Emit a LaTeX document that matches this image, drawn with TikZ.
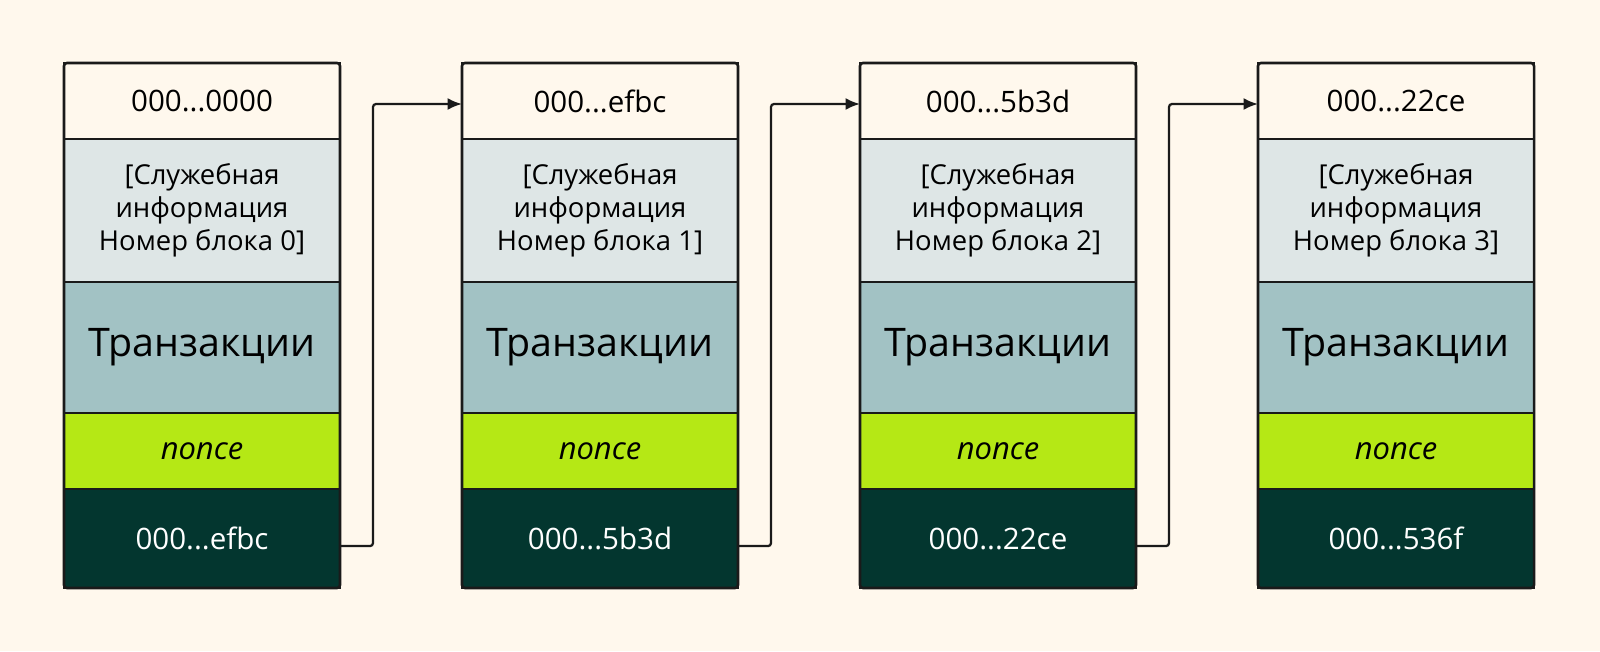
\documentclass[tikz,border=0pt]{standalone}
\usepackage{fontspec}
\setmainfont{Open Sans}
\usetikzlibrary{
  arrows.meta,
  positioning
}
\definecolor{cream}{RGB}{255,248,237}
\definecolor{mist}{RGB}{222,230,230}
\definecolor{sage}{RGB}{162,194,196}
\definecolor{lime}{RGB}{181,232,21}
\definecolor{pine}{RGB}{3,54,47}
\definecolor{ink}{RGB}{26,26,26}

\tikzset{
  part/.style={draw=ink, line width=1.8pt, minimum width=6.9cm, inner sep=0pt, outer sep=0pt, align=center},
  hdpart/.style={part, fill=cream, minimum height=1.9cm, font=\fontsize{21}{24}\selectfont},
  svcpart/.style={part, fill=mist, minimum height=3.575cm, font=\fontsize{19.5}{23.5}\selectfont},
  txpart/.style={part, fill=sage, minimum height=3.275cm, font=\fontsize{28}{32}\selectfont},
  ncpart/.style={part, fill=lime, minimum height=1.9cm, font=\fontsize{22}{25}\selectfont\itshape},
  hspart/.style={part, fill=pine, text=white, minimum height=2.475cm, font=\fontsize{21}{24}\selectfont},
  frame/.style={draw=ink, line width=1.8pt, rounded corners=0.075cm},
  link/.style={-{Latex[length=0.36cm, width=0.3cm]}, draw=ink, line width=1.6pt, rounded corners=0.075cm}
}

\begin{document}
\begin{tikzpicture}
  \fill[cream] (0,0) rectangle (40,-16.275);

  % block 0
  \node[hdpart, anchor=north west] (hd0) at (1.6,-1.575) {000...0000};
  \node[svcpart, below=0pt of hd0] (svc0) {[Служебная\\информация\\Номер блока 0]};
  \node[txpart, below=0pt of svc0] (tx0) {Транзакции};
  \node[ncpart, below=0pt of tx0] (nc0) {nonce};
  \node[hspart, below=0pt of nc0] (hs0) {000...efbc};
  \draw[frame] (hd0.north west) rectangle (hs0.south east);

  % block 1
  \node[hdpart, right=3.05cm of hd0] (hd1) {000...efbc};
  \node[svcpart, below=0pt of hd1] (svc1) {[Служебная\\информация\\Номер блока 1]};
  \node[txpart, below=0pt of svc1] (tx1) {Транзакции};
  \node[ncpart, below=0pt of tx1] (nc1) {nonce};
  \node[hspart, below=0pt of nc1] (hs1) {000...5b3d};
  \draw[frame] (hd1.north west) rectangle (hs1.south east);

  % block 2
  \node[hdpart, right=3.05cm of hd1] (hd2) {000...5b3d};
  \node[svcpart, below=0pt of hd2] (svc2) {[Служебная\\информация\\Номер блока 2]};
  \node[txpart, below=0pt of svc2] (tx2) {Транзакции};
  \node[ncpart, below=0pt of tx2] (nc2) {nonce};
  \node[hspart, below=0pt of nc2] (hs2) {000...22ce};
  \draw[frame] (hd2.north west) rectangle (hs2.south east);

  % block 3
  \node[hdpart, right=3.05cm of hd2] (hd3) {000...22ce};
  \node[svcpart, below=0pt of hd3] (svc3) {[Служебная\\информация\\Номер блока 3]};
  \node[txpart, below=0pt of svc3] (tx3) {Транзакции};
  \node[ncpart, below=0pt of tx3] (nc3) {nonce};
  \node[hspart, below=0pt of nc3] (hs3) {000...536f};
  \draw[frame] (hd3.north west) rectangle (hs3.south east);

  % hash links
  \draw[link] ([yshift=-0.19cm]hs0.east) -- ++(0.825,0) |- ([yshift=-0.075cm]hd1.west);
  \draw[link] ([yshift=-0.19cm]hs1.east) -- ++(0.825,0) |- ([yshift=-0.075cm]hd2.west);
  \draw[link] ([yshift=-0.19cm]hs2.east) -- ++(0.825,0) |- ([yshift=-0.075cm]hd3.west);
\end{tikzpicture}
\end{document}
